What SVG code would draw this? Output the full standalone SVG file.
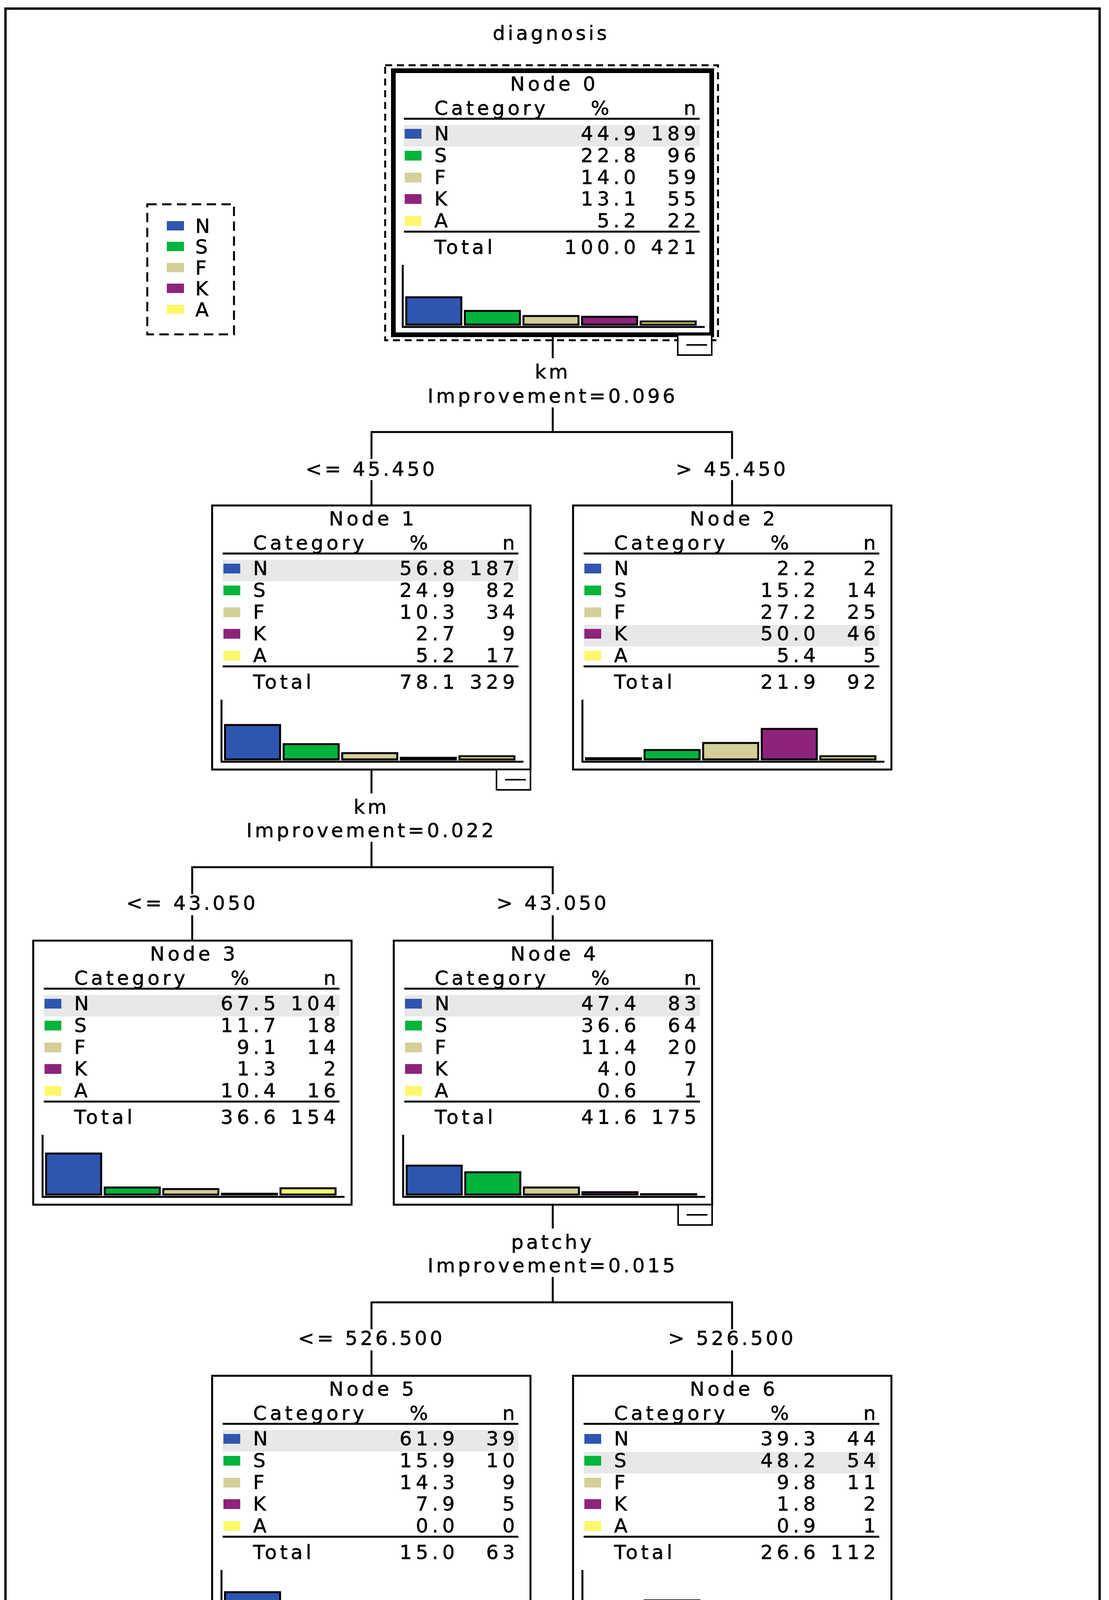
<svg xmlns="http://www.w3.org/2000/svg" width="2839" height="5374" viewBox="0 0 2839 5374">
<style>
text{font-family:"DejaVu Sans","Liberation Sans",sans-serif;fill:#000;stroke:#000;stroke-width:0.8px}
.w{font-size:50px;letter-spacing:8px}
.num{font-size:50px;letter-spacing:10px;text-anchor:end}
.mid{text-anchor:middle}
.lbl{font-size:50px;letter-spacing:7px;text-anchor:middle}
.box{fill:#fff;stroke:#000;stroke-width:5}
.ln{stroke:#000;stroke-width:5;fill:none}
.hl{fill:#e8e8e8}
.N{fill:#2e56b0}.S{fill:#00b43c}.F{fill:#d4cf98}.K{fill:#8e237c}.A{fill:#fcf86c}
.bar{stroke:#000;stroke-width:5}
.cb{fill:#fff;stroke:#000;stroke-width:4}
</style>
<rect x="0" y="0" width="2839" height="5374" fill="#fff"/>
<rect x="14" y="22" width="2801" height="5335" fill="none" stroke="#000" stroke-width="6"/>
<text class="lbl" x="1411" y="102">diagnosis</text>

<g id="legend">
<rect x="377" y="523" width="222" height="333" fill="none" stroke="#000" stroke-width="5" stroke-dasharray="24,14"/>
<rect class="N" x="427" y="566" width="44" height="24"/><text class="w" x="500" y="596">N</text>
<rect class="S" x="427" y="619" width="44" height="24"/><text class="w" x="500" y="649">S</text>
<rect class="F" x="427" y="673" width="44" height="24"/><text class="w" x="500" y="703">F</text>
<rect class="K" x="427" y="726" width="44" height="24"/><text class="w" x="500" y="756">K</text>
<rect class="A" x="427" y="780" width="44" height="24"/><text class="w" x="500" y="810">A</text>
</g>

<defs>
<g id="frame">
<text class="w" x="105" y="113">Category</text>
<text class="w mid" x="533" y="113">%</text>
<text class="num" x="785" y="113">n</text>
<line class="ln" x1="27" y1="123" x2="784" y2="123"/>
<rect class="N" x="29" y="149" width="43" height="25"/><text class="w" x="105" y="178">N</text>
<rect class="S" x="29" y="205" width="43" height="25"/><text class="w" x="105" y="234">S</text>
<rect class="F" x="29" y="261" width="43" height="25"/><text class="w" x="105" y="290">F</text>
<rect class="K" x="29" y="316" width="43" height="25"/><text class="w" x="105" y="345">K</text>
<rect class="A" x="29" y="372" width="43" height="25"/><text class="w" x="105" y="401">A</text>
<line class="ln" x1="27" y1="412" x2="784" y2="412"/>
<text class="w" x="105" y="469">Total</text>
<polyline class="ln" points="24,497 24,656 797,656"/>
</g>
<g id="collapse">
<rect class="cb" x="728" y="676" width="87" height="52"/>
<line x1="750" y1="702" x2="803" y2="702" stroke="#000" stroke-width="4"/>
</g>
</defs>

<g id="connectors">
<line class="ln" x1="1415" y1="857" x2="1415" y2="917"/>
<line class="ln" x1="1415" y1="1043" x2="1415" y2="1106"/>
<polyline class="ln" points="951,1175 951,1106 1874,1106 1874,1175"/>
<line class="ln" x1="951" y1="1229" x2="951" y2="1294"/>
<line class="ln" x1="1874" y1="1229" x2="1874" y2="1294"/>
<text class="lbl" x="1415" y="969">km</text>
<text class="lbl" x="1415" y="1031">Improvement=0.096</text>
<text class="lbl" x="951" y="1218">&lt;= 45.450</text>
<text class="lbl" x="1874" y="1218">&gt; 45.450</text>

<line class="ln" x1="951" y1="1970" x2="951" y2="2031"/>
<line class="ln" x1="951" y1="2155" x2="951" y2="2220"/>
<polyline class="ln" points="492,2289 492,2220 1415,2220 1415,2289"/>
<line class="ln" x1="492" y1="2343" x2="492" y2="2408"/>
<line class="ln" x1="1415" y1="2343" x2="1415" y2="2408"/>
<text class="lbl" x="951" y="2083">km</text>
<text class="lbl" x="951" y="2143">Improvement=0.022</text>
<text class="lbl" x="492" y="2329">&lt;= 43.050</text>
<text class="lbl" x="1415" y="2329">&gt; 43.050</text>

<line class="ln" x1="1415" y1="3084" x2="1415" y2="3145"/>
<line class="ln" x1="1415" y1="3269" x2="1415" y2="3334"/>
<polyline class="ln" points="951,3403 951,3334 1874,3334 1874,3403"/>
<line class="ln" x1="951" y1="3457" x2="951" y2="3522"/>
<line class="ln" x1="1874" y1="3457" x2="1874" y2="3522"/>
<text class="lbl" x="1415" y="3197">patchy</text>
<text class="lbl" x="1415" y="3257">Improvement=0.015</text>
<text class="lbl" x="951" y="3443">&lt;= 526.500</text>
<text class="lbl" x="1874" y="3443">&gt; 526.500</text>

<line class="ln" x1="1874" y1="4198" x2="1874" y2="4259"/>
<line class="ln" x1="1874" y1="4383" x2="1874" y2="4448"/>
<polyline class="ln" points="1415,4517 1415,4448 2339,4448 2339,4517"/>
<line class="ln" x1="1415" y1="4571" x2="1415" y2="4636"/>
<line class="ln" x1="2339" y1="4571" x2="2339" y2="4636"/>
<text class="lbl" x="1874" y="4311">pupil</text>
<text class="lbl" x="1874" y="4371">Improvement=0.023</text>
<text class="lbl" x="1415" y="4557">&lt;= 554.500</text>
<text class="lbl" x="2339" y="4557">&gt; 554.500</text>
</g>

<g id="node0" transform="translate(1007,181)">
<rect x="-21" y="-14" width="852" height="704" fill="none" stroke="#000" stroke-width="5" stroke-dasharray="18,12"/>
<rect x="0" y="0" width="815" height="676" fill="#fff" stroke="#000" stroke-width="12"/>
<rect class="hl" x="27" y="139" width="757" height="55"/>
<use href="#frame"/>
<text class="w mid" x="412" y="51">Node 0</text>
<text class="num" x="631" y="178">44.9</text><text class="num" x="785" y="178">189</text>
<text class="num" x="631" y="234">22.8</text><text class="num" x="785" y="234">96</text>
<text class="num" x="631" y="290">14.0</text><text class="num" x="785" y="290">59</text>
<text class="num" x="631" y="345">13.1</text><text class="num" x="785" y="345">55</text>
<text class="num" x="631" y="401">5.2</text><text class="num" x="785" y="401">22</text>
<text class="num" x="631" y="469">100.0</text><text class="num" x="785" y="469">421</text>
<rect class="bar N" x="33" y="580" width="141" height="70"/>
<rect class="bar S" x="183" y="615" width="141" height="35"/>
<rect class="bar F" x="333" y="628" width="141" height="22"/>
<rect class="bar K" x="483" y="630" width="141" height="20"/>
<rect class="bar A" x="633" y="642" width="141" height="8"/>
<use href="#collapse"/>
</g>

<g id="node1" transform="translate(543,1294)">
<rect class="box" x="0" y="0" width="815" height="676"/>
<rect class="hl" x="27" y="139" width="757" height="55"/>
<use href="#frame"/>
<text class="w mid" x="412" y="51">Node 1</text>
<text class="num" x="631" y="178">56.8</text><text class="num" x="785" y="178">187</text>
<text class="num" x="631" y="234">24.9</text><text class="num" x="785" y="234">82</text>
<text class="num" x="631" y="290">10.3</text><text class="num" x="785" y="290">34</text>
<text class="num" x="631" y="345">2.7</text><text class="num" x="785" y="345">9</text>
<text class="num" x="631" y="401">5.2</text><text class="num" x="785" y="401">17</text>
<text class="num" x="631" y="469">78.1</text><text class="num" x="785" y="469">329</text>
<rect class="bar N" x="33" y="562" width="141" height="88"/>
<rect class="bar S" x="183" y="611" width="141" height="39"/>
<rect class="bar F" x="333" y="634" width="141" height="16"/>
<rect class="bar K" x="483" y="646" width="141" height="4"/>
<rect class="bar A" x="633" y="642" width="141" height="8"/>
<use href="#collapse"/>
</g>

<g id="node2" transform="translate(1467,1294)">
<rect class="box" x="0" y="0" width="815" height="676"/>
<rect class="hl" x="27" y="306" width="757" height="55"/>
<use href="#frame"/>
<text class="w mid" x="412" y="51">Node 2</text>
<text class="num" x="631" y="178">2.2</text><text class="num" x="785" y="178">2</text>
<text class="num" x="631" y="234">15.2</text><text class="num" x="785" y="234">14</text>
<text class="num" x="631" y="290">27.2</text><text class="num" x="785" y="290">25</text>
<text class="num" x="631" y="345">50.0</text><text class="num" x="785" y="345">46</text>
<text class="num" x="631" y="401">5.4</text><text class="num" x="785" y="401">5</text>
<text class="num" x="631" y="469">21.9</text><text class="num" x="785" y="469">92</text>
<rect class="bar N" x="33" y="647" width="141" height="3"/>
<rect class="bar S" x="183" y="626" width="141" height="24"/>
<rect class="bar F" x="333" y="608" width="141" height="42"/>
<rect class="bar K" x="483" y="572" width="141" height="78"/>
<rect class="bar A" x="633" y="642" width="141" height="8"/>
</g>

<g id="node3" transform="translate(85,2408)">
<rect class="box" x="0" y="0" width="815" height="676"/>
<rect class="hl" x="27" y="139" width="757" height="55"/>
<use href="#frame"/>
<text class="w mid" x="412" y="51">Node 3</text>
<text class="num" x="631" y="178">67.5</text><text class="num" x="785" y="178">104</text>
<text class="num" x="631" y="234">11.7</text><text class="num" x="785" y="234">18</text>
<text class="num" x="631" y="290">9.1</text><text class="num" x="785" y="290">14</text>
<text class="num" x="631" y="345">1.3</text><text class="num" x="785" y="345">2</text>
<text class="num" x="631" y="401">10.4</text><text class="num" x="785" y="401">16</text>
<text class="num" x="631" y="469">36.6</text><text class="num" x="785" y="469">154</text>
<rect class="bar N" x="33" y="545" width="141" height="105"/>
<rect class="bar S" x="183" y="632" width="141" height="18"/>
<rect class="bar F" x="333" y="636" width="141" height="14"/>
<rect class="bar K" x="483" y="648" width="141" height="2"/>
<rect class="bar A" x="633" y="634" width="141" height="16"/>
</g>

<g id="node4" transform="translate(1008,2408)">
<rect class="box" x="0" y="0" width="815" height="676"/>
<rect class="hl" x="27" y="139" width="757" height="55"/>
<use href="#frame"/>
<text class="w mid" x="412" y="51">Node 4</text>
<text class="num" x="631" y="178">47.4</text><text class="num" x="785" y="178">83</text>
<text class="num" x="631" y="234">36.6</text><text class="num" x="785" y="234">64</text>
<text class="num" x="631" y="290">11.4</text><text class="num" x="785" y="290">20</text>
<text class="num" x="631" y="345">4.0</text><text class="num" x="785" y="345">7</text>
<text class="num" x="631" y="401">0.6</text><text class="num" x="785" y="401">1</text>
<text class="num" x="631" y="469">41.6</text><text class="num" x="785" y="469">175</text>
<rect class="bar N" x="33" y="576" width="141" height="74"/>
<rect class="bar S" x="183" y="593" width="141" height="57"/>
<rect class="bar F" x="333" y="632" width="141" height="18"/>
<rect class="bar K" x="483" y="644" width="141" height="6"/>
<rect class="bar A" x="633" y="649" width="141" height="1"/>
<use href="#collapse"/>
</g>

<g id="node5" transform="translate(543,3522)">
<rect class="box" x="0" y="0" width="815" height="676"/>
<rect class="hl" x="27" y="139" width="757" height="55"/>
<use href="#frame"/>
<text class="w mid" x="412" y="51">Node 5</text>
<text class="num" x="631" y="178">61.9</text><text class="num" x="785" y="178">39</text>
<text class="num" x="631" y="234">15.9</text><text class="num" x="785" y="234">10</text>
<text class="num" x="631" y="290">14.3</text><text class="num" x="785" y="290">9</text>
<text class="num" x="631" y="345">7.9</text><text class="num" x="785" y="345">5</text>
<text class="num" x="631" y="401">0.0</text><text class="num" x="785" y="401">0</text>
<text class="num" x="631" y="469">15.0</text><text class="num" x="785" y="469">63</text>
<rect class="bar N" x="33" y="554" width="141" height="96"/>
<rect class="bar S" x="183" y="625" width="141" height="25"/>
<rect class="bar F" x="333" y="628" width="141" height="22"/>
<rect class="bar K" x="483" y="638" width="141" height="12"/>
<rect class="bar A" x="633" y="650" width="141" height="0"/>
</g>

<g id="node6" transform="translate(1467,3522)">
<rect class="box" x="0" y="0" width="815" height="676"/>
<rect class="hl" x="27" y="195" width="757" height="55"/>
<use href="#frame"/>
<text class="w mid" x="412" y="51">Node 6</text>
<text class="num" x="631" y="178">39.3</text><text class="num" x="785" y="178">44</text>
<text class="num" x="631" y="234">48.2</text><text class="num" x="785" y="234">54</text>
<text class="num" x="631" y="290">9.8</text><text class="num" x="785" y="290">11</text>
<text class="num" x="631" y="345">1.8</text><text class="num" x="785" y="345">2</text>
<text class="num" x="631" y="401">0.9</text><text class="num" x="785" y="401">1</text>
<text class="num" x="631" y="469">26.6</text><text class="num" x="785" y="469">112</text>
<rect class="bar N" x="33" y="589" width="141" height="61"/>
<rect class="bar S" x="183" y="575" width="141" height="75"/>
<rect class="bar F" x="333" y="635" width="141" height="15"/>
<rect class="bar K" x="483" y="647" width="141" height="3"/>
<rect class="bar A" x="633" y="649" width="141" height="1"/>
<use href="#collapse"/>
</g>

<g id="node7" transform="translate(1008,4636)">
<rect class="box" x="0" y="0" width="815" height="676"/>
<rect class="hl" x="27" y="195" width="757" height="55"/>
<use href="#frame"/>
<text class="w mid" x="412" y="51">Node 7</text>
<text class="num" x="631" y="178">18.6</text><text class="num" x="785" y="178">11</text>
<text class="num" x="631" y="234">66.1</text><text class="num" x="785" y="234">39</text>
<text class="num" x="631" y="290">13.6</text><text class="num" x="785" y="290">8</text>
<text class="num" x="631" y="345">0.0</text><text class="num" x="785" y="345">0</text>
<text class="num" x="631" y="401">1.7</text><text class="num" x="785" y="401">1</text>
<text class="num" x="631" y="469">14.0</text><text class="num" x="785" y="469">59</text>
<rect class="bar N" x="33" y="621" width="141" height="29"/>
<rect class="bar S" x="183" y="548" width="141" height="102"/>
<rect class="bar F" x="333" y="629" width="141" height="21"/>
<rect class="bar K" x="483" y="650" width="141" height="0"/>
<rect class="bar A" x="633" y="647" width="141" height="3"/>
</g>

<g id="node8" transform="translate(1932,4636)">
<rect class="box" x="0" y="0" width="815" height="676"/>
<rect class="hl" x="27" y="139" width="757" height="55"/>
<use href="#frame"/>
<text class="w mid" x="412" y="51">Node 8</text>
<text class="num" x="631" y="178">62.3</text><text class="num" x="785" y="178">33</text>
<text class="num" x="631" y="234">28.3</text><text class="num" x="785" y="234">15</text>
<text class="num" x="631" y="290">5.7</text><text class="num" x="785" y="290">3</text>
<text class="num" x="631" y="345">3.8</text><text class="num" x="785" y="345">2</text>
<text class="num" x="631" y="401">0.0</text><text class="num" x="785" y="401">0</text>
<text class="num" x="631" y="469">12.6</text><text class="num" x="785" y="469">53</text>
<rect class="bar N" x="33" y="553" width="141" height="97"/>
<rect class="bar S" x="183" y="606" width="141" height="44"/>
<rect class="bar F" x="333" y="641" width="141" height="9"/>
<rect class="bar K" x="483" y="644" width="141" height="6"/>
<rect class="bar A" x="633" y="650" width="141" height="0"/>
</g>
</svg>
